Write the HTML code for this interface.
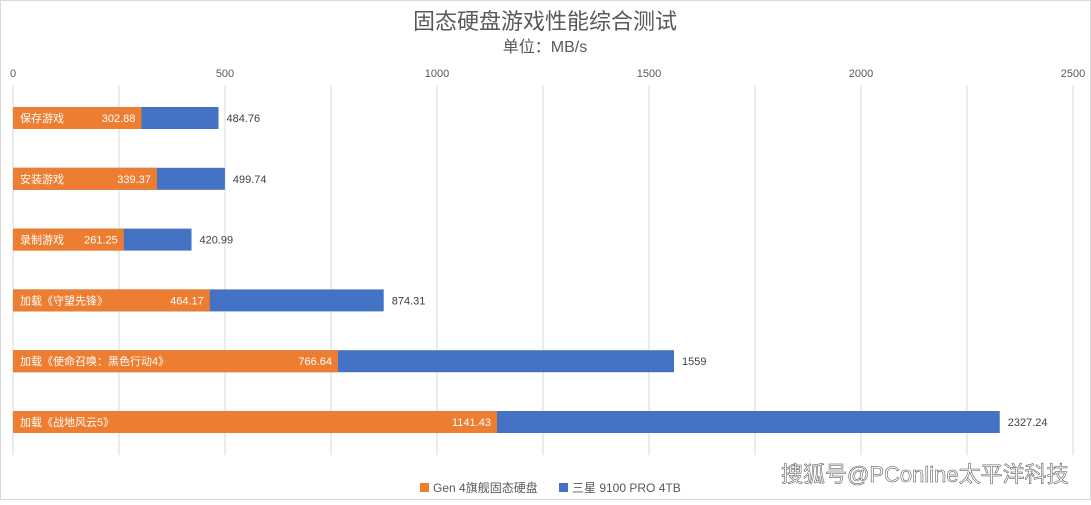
<!DOCTYPE html>
<html><head><meta charset="utf-8"><style>
body{margin:0;background:#fff;}
svg text{font-family:"Liberation Sans","Noto Sans CJK SC",sans-serif;}
</style></head><body>
<svg width="1091" height="500" xmlns="http://www.w3.org/2000/svg">
<rect x="0.5" y="0.5" width="1090" height="499" fill="#fff" stroke="#d9d9d9"/>
<text x="545" y="29" text-anchor="middle" font-size="22" fill="#595959" font-family="Noto Serif CJK SC, serif">固态硬盘游戏性能综合测试</text>
<text x="545" y="52" text-anchor="middle" font-size="16" fill="#595959">单位：MB/s</text>
<g id="grid"></g><g id="bars"></g>
<g>
<rect x="420" y="483" width="9" height="9" fill="#ed7d31"/>
<text x="433" y="492" font-size="12" fill="#595959">Gen 4旗舰固态硬盘</text>
<rect x="559" y="483" width="9" height="9" fill="#4472c4"/>
<text x="572" y="492" font-size="12" fill="#595959">三星 9100 PRO 4TB</text>
</g>
<text x="781" y="482" font-size="22" fill="#fff" stroke="#444" stroke-width="0.5">搜狐号@PConline太平洋科技</text>
</svg>
<script>
const categories=["保存游戏","安装游戏","录制游戏","加载《守望先锋》","加载《使命召唤：黑色行动4》","加载《战地风云5》"];
const gen4=[302.88,339.37,261.25,464.17,766.64,1141.43];
const s9100=[484.76,499.74,420.99,874.31,1559,2327.24];
const ticks=[0,500,1000,1500,2000,2500];
const gridVals=[0,250,500,750,1000,1250,1500,1750,2000,2250,2500];
const NS="http://www.w3.org/2000/svg";
const X=v=>13+v*1060/2500;
const Y=i=>118+i*60.8;
function mk(t,a,p){const e=document.createElementNS(NS,t);for(const k in a)e.setAttribute(k,a[k]);p.appendChild(e);return e;}
const g=document.getElementById('grid'),b=document.getElementById('bars');
gridVals.forEach(v=>{const l=mk('line',{x1:X(v),x2:X(v),y1:85,y2:455,stroke:'#d9d9d9'},g);

});
ticks.forEach(v=>{const t=mk('text',{x:X(v),y:77,'text-anchor':'middle','font-size':11,fill:'#595959'},g);t.textContent=v;

});
categories.forEach((c,i)=>{const y=Y(i)-11;
const r2=mk('rect',{x:X(0),y:y,width:X(s9100[i])-X(0),height:22,fill:'#4472c4'},b);


const r1=mk('rect',{x:X(0),y:y,width:X(gen4[i])-X(0),height:22,fill:'#ed7d31'},b);


const cl=mk('text',{x:20,y:Y(i)+4,'font-size':11,fill:'#fff','font-family':'Noto Serif CJK SC, serif'},b);cl.textContent=c;


const v1=mk('text',{x:X(gen4[i])-6,y:Y(i)+4,'font-size':11,fill:'#fff','text-anchor':'end'},b);v1.textContent=gen4[i];


const v2=mk('text',{x:X(s9100[i])+8,y:Y(i)+4,'font-size':11,fill:'#404040'},b);v2.textContent=s9100[i];

});
</script>
</body></html>
